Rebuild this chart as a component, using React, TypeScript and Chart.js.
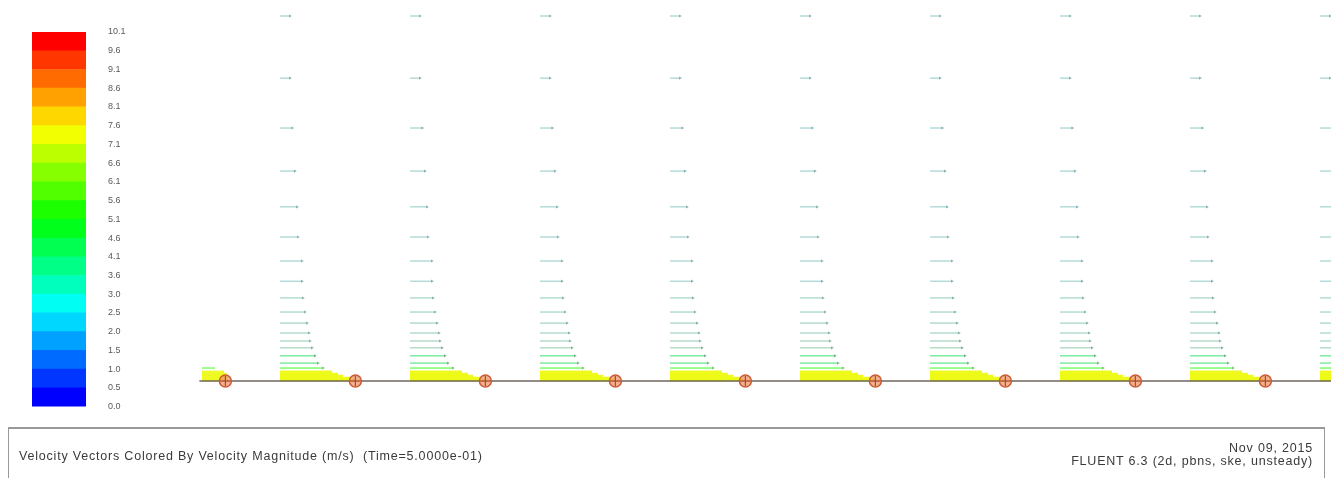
import React, { useEffect, useRef } from "react";
import { Chart, registerables } from "chart.js";

Chart.register(...registerables);

// ---------- data ----------
const cbLabels = ["0.0","0.5","1.0","1.5","2.0","2.5","3.0","3.6","4.1","4.6","5.1","5.6","6.1","6.6","7.1","7.6","8.1","8.6","9.1","9.6","10.1"];
const cbStep = 0.505;
const cbMax = 10.1;

// station positions along the plate (x units)
const stationX = [1, 2, 3, 4, 5, 6, 7, 8, 9];
// height above the wall of each vector row (mm)
const rowHeights = [95.8, 79.5, 66.4, 55.1, 45.7, 37.8, 31.5, 26.2, 21.8, 18.1, 15.2, 12.6, 10.5, 8.7, 6.6, 4.7, 3.4, 2.4, 1.8, 1.3, 0.8, 0.3];
// drawn vector length of each row (x units)
const rowLengths = [0.077, 0.077, 0.095, 0.115, 0.131, 0.138, 0.169, 0.169, 0.177, 0.192, 0.208, 0.223, 0.231, 0.246, 0.269, 0.292, 0.331, 0.4, 0.446, 0.485, 0.538, 0.577];
// velocity magnitude of each row (m/s)
const rowSpeeds = [2.7, 2.7, 2.8, 2.8, 2.9, 2.9, 3.0, 3.0, 3.1, 3.1, 3.2, 3.4, 3.6, 3.8, 4.1, 4.5, 5.3, 7.2, 7.3, 7.4, 7.4, 7.5];

// inlet station
const inletX = 0.4;
const inletHeights = [3.4, 2.4, 1.8, 1.3, 0.8, 0.3];
const inletLengths = [0.1, 0.17, 0.19, 0.19, 0.2, 0.2];
const inletSpeeds = [5.3, 7.2, 7.3, 7.4, 7.4, 7.5];

// markers on the wall
const markerX = [0.58, 1.58, 2.58, 3.58, 4.58, 5.58, 6.58, 7.58, 8.58];
const wallX = [0.38, 9.2];

// ---------- helpers ----------
function hslToRgb(h: number, s: number, l: number) {
  const a = s * Math.min(l, 1 - l);
  const f = (n: number) => {
    const k = (n + h / 30) % 12;
    return l - a * Math.max(-1, Math.min(k - 3, 9 - k, 1));
  };
  return [f(0) * 255, f(8) * 255, f(4) * 255];
}
function bandRgb(i: number) {
  return hslToRgb(240 * (1 - i / 19), 1, 0.5);
}
function bandColor(i: number) {
  const [r, g, b] = bandRgb(i);
  return `rgb(${r.toFixed(0)},${g.toFixed(0)},${b.toFixed(0)})`;
}
// colour of a speed, blended toward grey by `grey` (0..1)
function speedColor(v: number, grey: number, alpha: number) {
  const i = Math.max(0, Math.min(19, Math.floor(v / cbStep)));
  const [r, g, b] = bandRgb(i);
  const m = (c: number) => (c * (1 - grey) + 130 * grey).toFixed(0);
  return `rgba(${m(r)},${m(g)},${m(b)},${alpha})`;
}

function ColorBar() {
  const ref = useRef<HTMLCanvasElement>(null);
  useEffect(() => {
    const datasets = cbLabels.slice(0, 20).map((_, i) => ({
      label: "b" + i,
      data: [cbStep],
      backgroundColor: bandColor(i),
      borderWidth: 0,
      barPercentage: 1,
      categoryPercentage: 1,
    }));
    const chart = new Chart(ref.current!, {
      type: "bar",
      data: { labels: [""], datasets },
      options: {
        animation: false,
        responsive: false,
        layout: { autoPadding: false, padding: { left: 32, top: 32, bottom: 20, right: 0 } },
        plugins: { legend: { display: false }, tooltip: { enabled: false } },
        scales: {
          x: { stacked: true, display: false },
          y: {
            stacked: true,
            position: "right",
            min: 0,
            max: cbMax,
            border: { display: false },
            grid: { display: false, drawTicks: false },
            afterBuildTicks: (scale: any) => {
              scale.ticks = cbLabels.map((_, i) => ({ value: i * cbStep }));
            },
            afterFit: (scale: any) => {
              scale.width = 64;
            },
            ticks: {
              padding: 22,
              color: "#5a5a5a",
              font: { family: "Liberation Sans, Arial", size: 9 },
              callback: (_v: any, idx: number) => cbLabels[idx],
            },
          },
        },
      },
    });
    return () => chart.destroy();
  }, []);
  return <canvas ref={ref} width={150} height={434} />;
}

function rowData(xs: number[], h: number, len: number) {
  const out: any[] = [];
  xs.forEach((s) => {
    out.push({ x: s, y: h });
    out.push({ x: s + len, y: h, head: true });
    out.push({ x: s + len, y: null });
  });
  return out;
}

function VectorPlot() {
  const ref = useRef<HTMLCanvasElement>(null);
  useEffect(() => {
    const datasets: any[] = [];
    rowHeights.forEach((h, i) => {
      const thick = h < 3;
      const v = rowSpeeds[i];
      const grey = v < 4 ? 0.65 : v < 5 ? 0.3 : 0.05;
      datasets.push({
        label: "row" + i,
        data: rowData(stationX, h, rowLengths[i]),
        showLine: true,
        spanGaps: false,
        borderColor: speedColor(v, grey, v < 4 ? 0.65 : 0.9),
        borderWidth: thick ? 2.6 : 1,
        pointStyle: "triangle",
        rotation: 90,
        pointRadius: (c: any) => (c.raw && c.raw.head && !thick ? 1.8 : 0),
        pointBackgroundColor: speedColor(v, 0.8, 0.75),
        pointBorderColor: speedColor(v, 0.8, 0.75),
        pointBorderWidth: 0,
        order: 5,
      });
    });
    inletHeights.forEach((h, i) => {
      datasets.push({
        label: "inlet" + i,
        data: rowData([inletX], h, inletLengths[i]),
        showLine: true,
        spanGaps: false,
        borderColor: speedColor(inletSpeeds[i], 0.05, 0.85),
        borderWidth: h < 3 ? 2.6 : 1,
        pointRadius: 0,
        order: 5,
      });
    });
    datasets.push({
      label: "wall",
      data: wallX.map((x) => ({ x, y: 0 })),
      showLine: true,
      borderColor: "rgba(95,85,75,0.9)",
      borderWidth: 1.6,
      pointRadius: 0,
      order: 2,
    });
    datasets.push({
      label: "markers",
      data: markerX.map((x) => ({ x, y: 0 })),
      showLine: false,
      pointStyle: "circle",
      pointRadius: 6,
      pointBackgroundColor: "rgba(238,150,105,0.75)",
      pointBorderColor: "rgba(200,85,45,0.95)",
      pointBorderWidth: 1.5,
      order: 1,
    });
    datasets.push({
      label: "markerCross",
      data: markerX.map((x) => ({ x, y: 0 })),
      showLine: false,
      pointStyle: "cross",
      pointRadius: 5,
      pointBorderColor: "rgba(170,60,35,0.9)",
      pointBorderWidth: 1.2,
      order: 0,
    });

    const chart = new Chart(ref.current!, {
      type: "scatter",
      data: { datasets },
      options: {
        animation: false,
        responsive: false,
        layout: { autoPadding: false, padding: 0 },
        plugins: { legend: { display: false }, tooltip: { enabled: false } },
        scales: {
          x: { type: "linear", display: false, min: 0, max: 1181 / 130 },
          y: { type: "linear", display: false, min: -39 / 3.81, max: 100 },
        },
      },
    });
    return () => chart.destroy();
  }, []);
  return <canvas ref={ref} width={1181} height={420} />;
}

export default function App() {
  const font = "'Liberation Sans', Arial, sans-serif";
  return (
    <div style={{ position: "absolute", left: 0, top: 0, width: 1331, height: 478, background: "#fff", overflow: "hidden" }}>
      <div style={{ position: "absolute", left: 0, top: 0 }}>
        <ColorBar />
      </div>
      <div style={{ position: "absolute", left: 150, top: 0 }}>
        <VectorPlot />
      </div>
      <div
        style={{
          position: "absolute",
          left: 8,
          top: 427,
          width: 1315,
          height: 60,
          borderTop: "2px solid #999",
          borderLeft: "1px solid #999",
          borderRight: "1px solid #999",
          fontFamily: font,
          color: "#3a3a3a",
          fontSize: 12.5,
          letterSpacing: "0.8px",
        }}
      >
        <div style={{ position: "absolute", left: 10, top: 20, whiteSpace: "pre" }}>
          {"Velocity Vectors Colored By Velocity Magnitude (m/s)  (Time=5.0000e-01)"}
        </div>
        <div style={{ position: "absolute", right: 11, top: 13, textAlign: "right", lineHeight: "13px", whiteSpace: "pre" }}>
          <div>Nov 09, 2015</div>
          <div>FLUENT 6.3 (2d, pbns, ske, unsteady)</div>
        </div>
      </div>
    </div>
  );
}
